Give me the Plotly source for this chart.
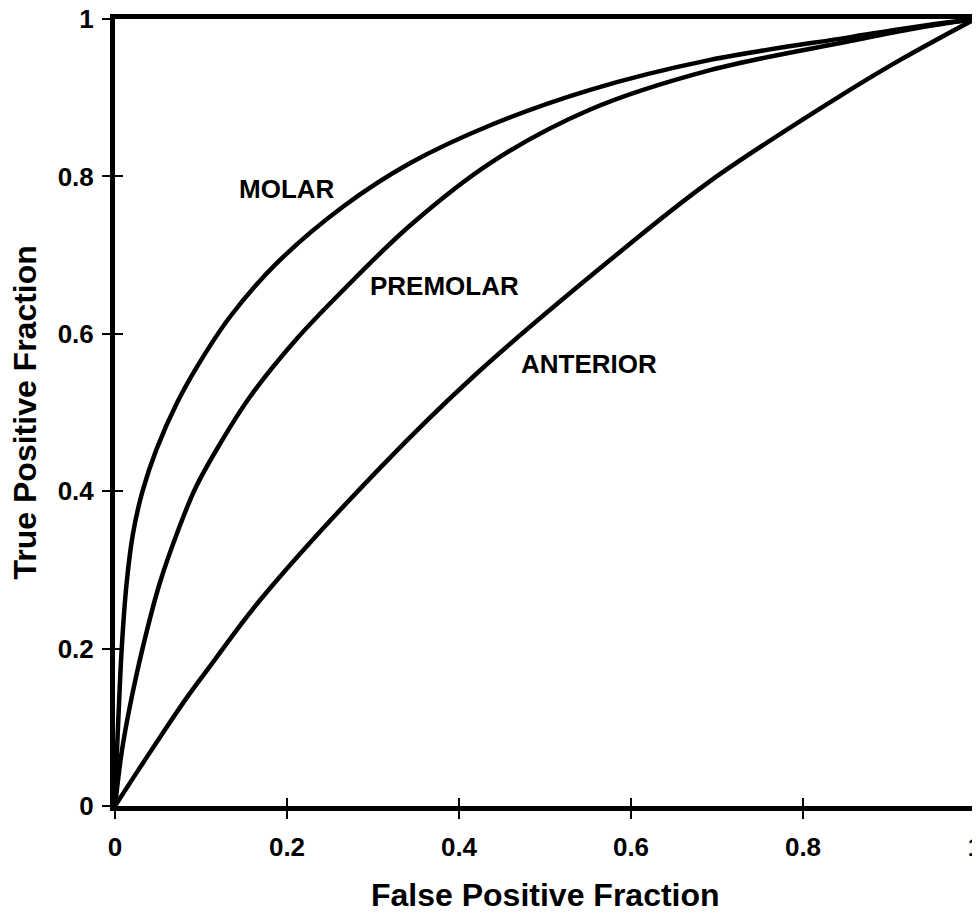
import plotly.graph_objects as go

# ROC curves (False Positive Fraction, True Positive Fraction)
molar_fpf = [0, 0.0015, 0.004, 0.0078, 0.0135, 0.021, 0.032, 0.048, 0.072, 0.0953, 0.134,
             0.1884, 0.2658, 0.3434, 0.4364, 0.5526, 0.692, 0.855, 0.93, 1.0]
molar_tpf = [0, 0.05, 0.1135, 0.2, 0.283, 0.3466, 0.4, 0.4525, 0.512, 0.558, 0.622,
             0.690, 0.762, 0.817, 0.865, 0.910, 0.948, 0.977, 0.99, 1.0]

premolar_fpf = [0, 0.008, 0.017, 0.032, 0.052, 0.074, 0.094, 0.122, 0.157, 0.2116, 0.2658,
                0.3434, 0.4364, 0.5526, 0.692, 0.855, 0.93, 1.0]
premolar_tpf = [0, 0.07, 0.125, 0.2, 0.283, 0.352, 0.405, 0.46, 0.52, 0.594, 0.656,
                0.738, 0.817, 0.885, 0.935, 0.972, 0.988, 1.0]

anterior_fpf = [0, 0.0178, 0.0333, 0.0527, 0.0837, 0.1108, 0.169, 0.3085, 0.419, 0.576,
                0.692, 0.8356, 0.913, 1.0]
anterior_tpf = [0, 0.030, 0.056, 0.088, 0.138, 0.178, 0.262, 0.43, 0.548, 0.694,
                0.794, 0.897, 0.948, 1.0]

labels = ["MOLAR", "PREMOLAR", "ANTERIOR"]
label_x = [0.1998, 0.3835, 0.5515]
label_y = [0.7846, 0.661, 0.562]

tick_vals = [0, 0.2, 0.4, 0.6, 0.8, 1]
tick_text = ["0", "0.2", "0.4", "0.6", "0.8", "1"]

x_title = "False Positive Fraction"
y_title = "True Positive Fraction"

FONT = "Liberation Sans"

fig = go.Figure()
for xs, ys, name in [(molar_fpf, molar_tpf, labels[0]),
                     (premolar_fpf, premolar_tpf, labels[1]),
                     (anterior_fpf, anterior_tpf, labels[2])]:
    fig.add_trace(go.Scatter(x=xs, y=ys, mode="lines", name=name,
                             line=dict(color="black", width=4.5, shape="spline", smoothing=1.0),
                             showlegend=False, hoverinfo="skip"))

# invisible trace for the overlay axes that carry the inner halves of the cross ticks
fig.add_trace(go.Scatter(x=[0], y=[0], xaxis="x2", yaxis="y2", mode="markers",
                         marker=dict(opacity=0), showlegend=False, hoverinfo="skip"))

for txt, x, y in zip(labels, label_x, label_y):
    fig.add_annotation(x=x, y=y, text=txt, showarrow=False,
                       font=dict(family=FONT, size=26, color="black", weight="bold"))

title_font = dict(family=FONT, size=32, color="black", weight="bold")
fig.add_annotation(xref="paper", yref="paper", x=0.5, y=-0.113, text=x_title,
                   showarrow=False, xanchor="center", yanchor="middle", font=title_font)
fig.add_annotation(xref="paper", yref="paper", x=-0.1047, y=0.5, text=y_title,
                   showarrow=False, xanchor="center", yanchor="middle", textangle=-90,
                   font=title_font)

axis_common = dict(range=[0, 1], tickvals=tick_vals, ticktext=tick_text, automargin=False,
                   showgrid=False, zeroline=False, showline=True, linecolor="black",
                   linewidth=5, mirror=True, ticks="outside", ticklen=8, tickwidth=1.5,
                   tickcolor="black", ticklabeloverflow="allow",
                   tickfont=dict(family=FONT, size=26, color="black", weight="bold"))

# the page body adds an 8px offset, so the figure is 8px smaller to keep the plot in place
fig.update_layout(
    width=972, height=909,
    margin=dict(l=107, r=5, t=11, b=111),
    plot_bgcolor="white", paper_bgcolor="white",
    xaxis=dict(**axis_common, ticklabelstandoff=6),
    yaxis=dict(**axis_common, ticklabelstandoff=3),
    xaxis2=dict(range=[0, 1], tickvals=tick_vals, overlaying="x", side="bottom",
                showticklabels=False, ticks="inside", ticklen=8, tickwidth=1.5,
                tickcolor="black", showgrid=False, zeroline=False, showline=False),
    yaxis2=dict(range=[0, 1], tickvals=tick_vals, overlaying="y", side="left",
                showticklabels=False, ticks="inside", ticklen=8, tickwidth=1.5,
                tickcolor="black", showgrid=False, zeroline=False, showline=False),
)

fig.write_html("out.html")
